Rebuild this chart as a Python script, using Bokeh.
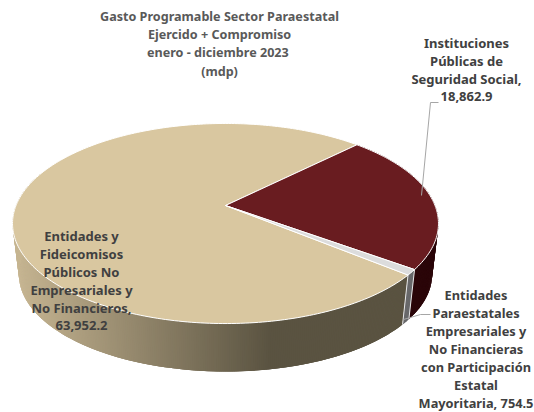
import math
from bokeh.plotting import figure
from bokeh.embed import file_html
from bokeh.resources import INLINE
from bokeh.models import Range1d
from bokeh.core.properties import value

categories = ["Entidades y Fideicomisos Públicos No Empresariales y No Financieros",
              "Instituciones Públicas de Seguridad Social",
              "Entidades Paraestatales Empresariales y No Financieras con Participación Estatal Mayoritaria"]
values = [63952.2, 18862.9, 754.5]
top_colors = ["#d9c7a0", "#691c20", "#dcdcdc"]
title_lines = ["Gasto Programable Sector Paraestatal", "Ejercido + Compromiso", "enero -  diciembre 2023", "(mdp)"]
label_lines = [["Entidades y", "Fideicomisos", "Públicos No", "Empresariales y", "No Financieros,", "63,952.2"],
               ["Instituciones", "Públicas de", "Seguridad Social,", "18,862.9"],
               ["Entidades", "Paraestatales", "Empresariales y", "No Financieras", "con Participación", "Estatal", "Mayoritaria, 754.5"]]

FONT_V = value("Noto Sans")
CX, CY = 225.0, 205.0
A, K, RX = 0.18, 96.8, 209.5
DEPTH, SCALE = 51.5, 0.97
START = 45.0

def proj(deg, face=0):
    t = math.radians(deg)
    u, v = math.sin(t), -math.cos(t)
    w = 1 - A * v
    x, y = RX * u / w, K * v / w
    if face:
        return CX + x * SCALE, CY + DEPTH + y * SCALE
    return CX + x, CY + y

def lerp(c1, c2, f):
    return "#%02x%02x%02x" % tuple(round(a + (b - a) * f) for a, b in zip(c1, c2))

def tan_shade(x):
    f = min(1, max(0, (x - 13) / 255))
    return lerp((0xc6, 0xb5, 0x92), (0x5a, 0x53, 0x41), f)

total = sum(values)
spans = [v / total * 360 for v in values]
red_a, red_b = START, START + spans[1]
grey_a, grey_b = red_b, red_b + spans[2]
tan_a, tan_b = grey_b, grey_b + spans[0]

p = figure(width=534, height=412, output_backend="svg", toolbar_location=None,
           x_range=Range1d(0, 534), y_range=Range1d(412, 0), min_border=0)
p.axis.visible = False
p.grid.visible = False
p.outline_line_color = None

def side(a, b, colorf, step=0.5, overlap=1.0):
    n = max(1, int((b - a) / step))
    xs, ys, cs = [], [], []
    for i in range(n):
        d0 = a + (b - a) * i / n
        d1 = min(b, a + (b - a) * (i + 1) / n + overlap)
        x0, y0 = proj(d0); x1, y1 = proj(d1)
        x2, y2 = proj(d1, 1); x3, y3 = proj(d0, 1)
        xs.append([x0, x1, x2, x3]); ys.append([y0, y1, y2, y3])
        cs.append(colorf((x0 + x1) / 2))
    p.patches(xs, ys, fill_color=cs, line_color=None)

side(red_a, red_b, lambda x: "#2b0609")
side(tan_a, 290, tan_shade)
side(grey_a, grey_b, lambda x: "#68686a")
for d in (grey_a, grey_b):
    x0, y0 = proj(d); x1, y1 = proj(d, 1)
    p.line([x0, x1], [y0, y1], line_color="#e8e8e8", line_width=1)

for a, b, col in [(tan_a, tan_b, top_colors[0]), (red_a, red_b, top_colors[1]), (grey_a, grey_b, top_colors[2])]:
    n = max(2, int(b - a))
    pts = [proj(a + (b - a) * i / n) for i in range(n + 1)]
    p.patch([CX] + [q[0] for q in pts], [CY] + [q[1] for q in pts],
            fill_color=col, line_color="#ffffff", line_width=1.0)

# leader lines
p.line([421, 430, 438], [195, 102, 102], line_color="#a6a6a6", line_width=1)
p.line([403, 420, 430], [319, 314, 314], line_color="#a6a6a6", line_width=1)

def block(lines, x, y0, lh, size, color="#404040"):
    ys = [y0 + i * lh for i in range(len(lines))]
    p.text([x] * len(lines), ys, text=lines, text_font_size=size, text_font_style="bold",
           text_color=color, text_align="center", text_baseline="middle", text_font=FONT_V)

block(title_lines, 219, 16, 18.2, "12.6px", "#595959")
block(label_lines[0], 81, 235, 18, "13px")
block(label_lines[1], 466, 42, 18, "13px")
block(label_lines[2], 475.5, 294, 18, "12.8px")

open("out.html", "w").write(file_html(p, INLINE))
